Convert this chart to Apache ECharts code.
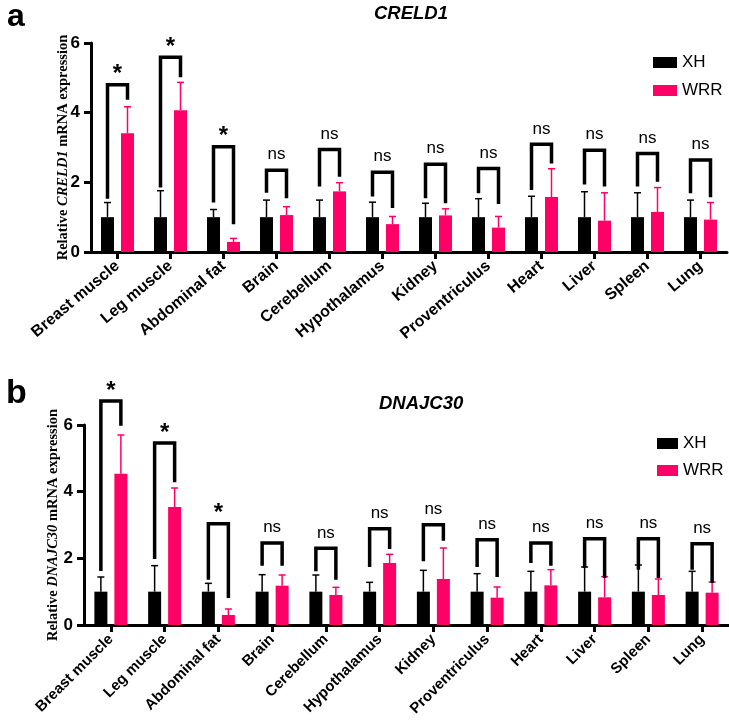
<!DOCTYPE html>
<html>
<head>
<meta charset="utf-8">
<script src="https://cdn.jsdelivr.net/npm/echarts@6/dist/echarts.min.js"></script>
<style>
html,body{margin:0;padding:0;background:#fff;}
#chart{width:729px;height:722px;}
</style>
</head>
<body>
<div id="chart"></div>
<script>
const categories = ['Breast muscle', 'Leg muscle', 'Abdominal fat', 'Brain', 'Cerebellum', 'Hypothalamus', 'Kidney', 'Proventriculus', 'Heart', 'Liver', 'Spleen', 'Lung'];
const yTicks = [0, 2, 4, 6];

// Panel a: CRELD1
const xhMeanA  = [1, 1, 1, 1, 1, 1, 1, 1, 1, 1, 1, 1];
const xhErrA   = [1.42, 1.76, 1.22, 1.49, 1.49, 1.43, 1.40, 1.53, 1.60, 1.73, 1.70, 1.49];
const wrrMeanA = [3.41, 4.07, 0.29, 1.06, 1.74, 0.80, 1.05, 0.70, 1.58, 0.90, 1.15, 0.93];
const wrrErrA  = [4.17, 4.87, 0.39, 1.30, 1.99, 1.02, 1.24, 1.02, 2.39, 1.70, 1.85, 1.42];
const brTopA   = [4.80, 5.59, 3.02, 2.35, 2.94, 2.29, 2.52, 2.40, 3.09, 2.92, 2.83, 2.64];
const brLegLA  = [1.53, 1.85, 1.42, 1.70, 1.88, 1.59, 1.54, 1.69, 1.78, 1.94, 1.88, 1.69];
const brLegRA  = [4.37, 5.02, 0.80, 1.54, 2.16, 1.26, 1.40, 1.38, 2.54, 1.88, 2.02, 1.57];
const sigA     = ['*', '*', '*', 'ns', 'ns', 'ns', 'ns', 'ns', 'ns', 'ns', 'ns', 'ns'];

// Panel b: DNAJC30
const xhMeanB  = [1, 1, 1, 1, 1, 1, 1, 1, 1, 1, 1, 1];
const xhErrB   = [1.44, 1.78, 1.25, 1.51, 1.50, 1.28, 1.64, 1.54, 1.61, 1.74, 1.80, 1.61];
const wrrMeanB = [4.54, 3.54, 0.30, 1.18, 0.90, 1.86, 1.38, 0.82, 1.19, 0.83, 0.90, 0.97];
const wrrErrB  = [5.70, 4.11, 0.48, 1.50, 1.13, 2.12, 2.31, 1.14, 1.66, 1.45, 1.38, 1.29];
const brTopB   = [6.72, 5.46, 3.04, 2.46, 2.30, 2.89, 3.01, 2.56, 2.46, 2.59, 2.59, 2.44];
const brLegLB  = [1.62, 1.98, 1.36, 1.78, 1.61, 1.74, 1.91, 1.74, 1.86, 1.71, 1.66, 1.66];
const brLegRB  = [5.98, 4.28, 0.81, 1.78, 1.36, 2.28, 2.53, 1.44, 1.78, 1.41, 1.41, 1.26];
const sigB     = ['*', '*', '*', 'ns', 'ns', 'ns', 'ns', 'ns', 'ns', 'ns', 'ns', 'ns'];

const PINK = '#ff0066';
const BLACK = '#000000';
const BAR_W = 13;
const BAR_GAP = 7;
const OFF = (BAR_W + BAR_GAP) / 2;
const SANS = 'Liberation Sans, Arial, sans-serif';
const SERIF = 'Liberation Serif, Times New Roman, serif';

function errRender(offset, color) {
  return function (params, api) {
    const i = api.value(0);
    const b = api.coord([i, api.value(1)]);
    const t = api.coord([i, api.value(2)]);
    const x = b[0] + offset;
    return {
      type: 'group',
      children: [
        { type: 'line', shape: { x1: x, y1: b[1], x2: x, y2: t[1] }, style: { stroke: color, lineWidth: 1.5 } },
        { type: 'line', shape: { x1: x - 3.5, y1: t[1], x2: x + 3.5, y2: t[1] }, style: { stroke: color, lineWidth: 1.5 } }
      ]
    };
  };
}

function bracketRender(sig) {
  return function (params, api) {
    const i = api.value(0);
    const c = api.coord([i, api.value(1)]);
    const l = api.coord([i, api.value(2)]);
    const r = api.coord([i, api.value(3)]);
    const xL = c[0] - OFF, xR = c[0] + OFF;
    const s = sig[params.dataIndex];
    const star = s === '*';
    return {
      type: 'group',
      children: [
        { type: 'polyline', shape: { points: [[xL, l[1]], [xL, c[1]], [xR, c[1]], [xR, r[1]]] },
          style: { stroke: BLACK, lineWidth: 3.5, fill: null, lineJoin: 'miter' } },
        { type: 'text', x: c[0], y: star ? c[1] + 2 : c[1] - 7,
          style: { text: s, fill: BLACK, align: 'center', verticalAlign: 'bottom',
                   font: star ? 'bold 24px ' + SANS : 'normal 17px ' + SANS } }
      ]
    };
  };
}

function zip(a, b) { return a.map((v, i) => [i, v, b[i]]); }
function zip4(a, b, c) { return a.map((v, i) => [i, v, b[i], c[i]]); }

function axisSet(gridIndex, gene, rot, fs) {
  const x = {
    type: 'category', gridIndex: gridIndex, data: categories,
    axisLine: { lineStyle: { color: BLACK, width: 3 } },
    axisTick: { show: true, alignWithLabel: true, length: 7, lineStyle: { color: BLACK, width: 3 } },
    axisLabel: { rotate: rot, margin: 12, color: BLACK, fontFamily: SANS, fontWeight: 'bold', fontSize: fs, interval: 0 },
    splitLine: { show: false }
  };
  const y = {
    type: 'value', gridIndex: gridIndex, min: 0, max: 6, interval: 2,
    axisLine: { show: true, lineStyle: { color: BLACK, width: 3 } },
    axisTick: { show: true, length: 7, lineStyle: { color: BLACK, width: 3 } },
    axisLabel: { color: BLACK, fontFamily: SANS, fontWeight: 'bold', fontSize: 17, margin: 11,
                 formatter: v => yTicks.indexOf(v) >= 0 ? String(v) : '' },
    splitLine: { show: false },
    name: '{n|Relative }{i|' + gene + '}{n| mRNA expression}',
    nameLocation: 'middle', nameGap: 20, nameRotate: 90, nameMoveOverlap: false,
    nameTextStyle: {
      rich: {
        n: { fontFamily: SERIF, fontWeight: 'bold', fontSize: 14.5, color: BLACK },
        i: { fontFamily: SERIF, fontWeight: 'bold', fontStyle: 'italic', fontSize: 14.5, color: BLACK }
      }
    }
  };
  return [x, y];
}

const [xA, yA] = axisSet(0, 'CRELD1', 40, 16);
const [xB, yB] = axisSet(1, 'DNAJC30', 45, 15);
yB.nameGap = 23;

function seriesSet(idx, xhM, xhE, wM, wE, bT, bL, bR, sig) {
  return [
    { name: 'XH', type: 'bar', xAxisIndex: idx, yAxisIndex: idx, data: xhM, barWidth: BAR_W,
      barGap: (BAR_GAP / BAR_W * 100) + '%', itemStyle: { color: BLACK }, z: 2 },
    { name: 'WRR', type: 'bar', xAxisIndex: idx, yAxisIndex: idx, data: wM, barWidth: BAR_W,
      itemStyle: { color: PINK }, z: 2 },
    { type: 'custom', xAxisIndex: idx, yAxisIndex: idx, data: zip(xhM, xhE), renderItem: errRender(-OFF, BLACK),
      encode: { x: 0, y: [1, 2] }, clip: false, z: 3, silent: true },
    { type: 'custom', xAxisIndex: idx, yAxisIndex: idx, data: zip(wM, wE), renderItem: errRender(OFF, PINK),
      encode: { x: 0, y: [1, 2] }, clip: false, z: 3, silent: true },
    { type: 'custom', xAxisIndex: idx, yAxisIndex: idx, data: zip4(bT, bL, bR), renderItem: bracketRender(sig),
      encode: { x: 0, y: [1, 2, 3] }, clip: false, z: 4, silent: true }
  ];
}

const option = {
  animation: false,
  backgroundColor: '#ffffff',
  title: [
    { text: 'a', left: 2, top: -4, textStyle: { fontFamily: SANS, fontWeight: 'bold', fontSize: 32, color: BLACK } },
    { text: 'b', left: 1, top: 372, textStyle: { fontFamily: SANS, fontWeight: 'bold', fontSize: 34, color: BLACK } },
    { text: 'CRELD1', left: 369, top: -1, textStyle: { fontFamily: SANS, fontWeight: 'bold', fontStyle: 'italic', fontSize: 18.5, color: BLACK } },
    { text: 'DNAJC30', left: 374, top: 389, textStyle: { fontFamily: SANS, fontWeight: 'bold', fontStyle: 'italic', fontSize: 18.5, color: BLACK } }
  ],
  legend: [
    { data: ['XH', 'WRR'], orient: 'vertical', left: 648, top: 49, itemWidth: 24, itemHeight: 11, itemGap: 11,
      icon: 'rect', textStyle: { fontFamily: SANS, fontSize: 17, color: BLACK }, selectedMode: false },
    { data: ['XH', 'WRR'], orient: 'vertical', left: 652, top: 430, itemWidth: 21, itemHeight: 11, itemGap: 10,
      icon: 'rect', textStyle: { fontFamily: SANS, fontSize: 17, color: BLACK }, selectedMode: false }
  ],
  grid: [
    { left: 91, top: 43, width: 636, height: 209 },
    { left: 84, top: 425, width: 645, height: 200 }
  ],
  xAxis: [xA, xB],
  yAxis: [yA, yB],
  series: [
    ...seriesSet(0, xhMeanA, xhErrA, wrrMeanA, wrrErrA, brTopA, brLegLA, brLegRA, sigA),
    ...seriesSet(1, xhMeanB, xhErrB, wrrMeanB, wrrErrB, brTopB, brLegLB, brLegRB, sigB)
  ]
};

const chart = echarts.init(document.getElementById('chart'), null, { renderer: 'canvas' });
chart.setOption(option);
</script>
</body>
</html>
